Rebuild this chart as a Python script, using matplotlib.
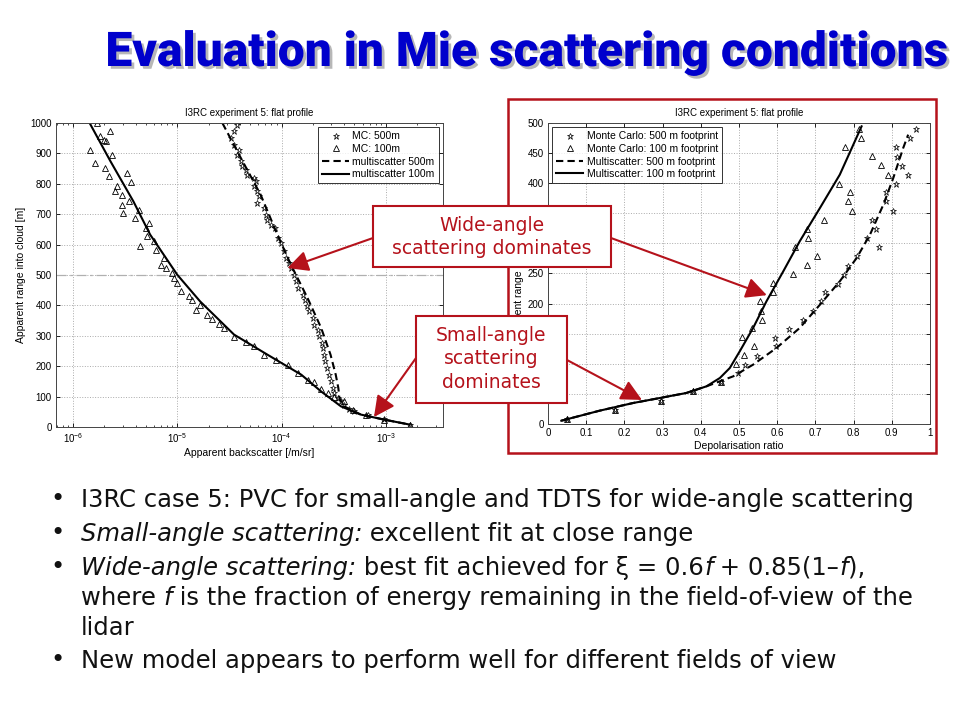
import matplotlib
matplotlib.use("Agg")
import matplotlib.pyplot as plt
import matplotlib.patheffects as pe
from matplotlib.patches import Rectangle
import numpy as np

plt.rcParams['font.family'] = ['Liberation Sans', 'DejaVu Sans']

# ---- left panel: apparent backscatter (log10) vs range ----
ms100_logb = [-5.84, -5.64, -5.42, -5.26, -5.00, -4.78, -4.455, -4.135, -3.81, -3.62, -3.43, -3.24, -3.01, -2.77]
ms100_rng = [1000, 874, 742, 633, 501, 413, 304, 238, 172, 117, 68, 41, 24, 8]

ms500_logb = [-4.567, -4.39, -4.20, -4.04, -3.91, -3.75, -3.62, -3.53, -3.48, -3.455, -3.445, -3.40, -3.24, -3.01, -2.77]
ms500_rng = [1000, 885, 764, 633, 534, 424, 326, 238, 172, 128, 95, 68, 41, 24, 8]

mc500_logb = [-4.429, -4.455, -4.487, -4.455, -4.407, -4.423, -4.391, -4.375, -4.343, -4.327,
              -4.263, -4.247, -4.263, -4.237, -4.215, -4.231, -4.167, -4.151, -4.135, -4.103,
              -4.064, -4.038, -4.006, -3.981, -3.958, -3.926, -3.910, -3.885, -3.862, -3.840,
              -3.798, -3.776, -3.756, -3.734, -3.702, -3.686, -3.654, -3.638, -3.615, -3.606,
              -3.596, -3.583, -3.564, -3.542, -3.526, -3.510, -3.494, -3.462, -3.429, -3.397,
              -3.349, -3.301, -3.173, -3.013, -2.772]
mc500_rng = [995, 973, 951, 929, 912, 896, 874, 858, 847, 830,
             819, 808, 792, 775, 759, 737, 720, 699, 682, 666,
             655, 622, 605, 578, 556, 540, 523, 501, 479, 457,
             435, 419, 397, 381, 359, 337, 320, 298, 276, 260,
             238, 216, 194, 172, 150, 128, 112, 95, 84, 74,
             60, 54, 41, 27, 8]

mc100_logb = [-5.769, -5.641, -5.737, -5.705, -5.679, -5.833, -5.625, -5.785, -5.689, -5.657,
              -5.481, -5.439, -5.577, -5.593, -5.529, -5.465, -5.529, -5.519, -5.369, -5.401,
              -5.272, -5.304, -5.353, -5.288, -5.224, -5.208, -5.160, -5.128, -5.112, -5.048,
              -5.032, -5.000, -4.968, -4.888, -4.856, -4.824, -4.782, -4.712, -4.663, -4.599,
              -4.551, -4.455, -4.343, -4.263, -4.167, -4.054, -3.942, -3.846, -3.750, -3.686,
              -3.622, -3.558, -3.494, -3.397, -3.317, -3.189, -3.013, -2.772]
mc100_rng = [1000, 973, 956, 945, 940, 912, 896, 868, 852, 825,
             836, 806, 792, 775, 764, 745, 731, 704, 715, 688,
             671, 655, 594, 627, 611, 581, 534, 556, 523, 507,
             490, 474, 446, 430, 419, 386, 400, 370, 356, 339,
             326, 295, 280, 265, 238, 219, 205, 178, 156, 148,
             126, 112, 98, 84, 57, 38, 24, 8]

# ---- right panel: depolarisation ratio vs range ----
rs_x = [0.035, 0.135, 0.223, 0.293, 0.362, 0.415, 0.450, 0.476, 0.502, 0.537, 0.572, 0.616, 0.659, 0.712, 0.764, 0.821]
rs_y = [5.5, 22.1, 34.9, 43.2, 51.5, 62.6, 76.4, 93.0, 120.7, 159.5, 203.8, 253.6, 303.4, 358.8, 414.2, 494.4]

rd_x = [0.035, 0.135, 0.223, 0.293, 0.362, 0.415, 0.450, 0.485, 0.537, 0.598, 0.659, 0.712, 0.764, 0.808, 0.843, 0.878, 0.904, 0.930, 0.943]
rd_y = [5.5, 22.1, 34.9, 43.2, 51.5, 62.6, 70.9, 79.2, 98.6, 126.2, 159.5, 198.2, 237.0, 275.7, 314.5, 364.3, 408.6, 458.5, 480.6]

rt_x = [0.051, 0.175, 0.295, 0.380, 0.452, 0.493, 0.514, 0.539, 0.508, 0.561, 0.535, 0.558, 0.555, 0.590, 0.590, 0.642,
        0.677, 0.703, 0.646, 0.681, 0.677, 0.723, 0.797, 0.786, 0.792, 0.761, 0.891, 0.873, 0.847, 0.777, 0.819, 0.813]
rt_y = [8.9, 23.8, 38.8, 54.3, 69.8, 99.7, 114.1, 129.0, 144.0, 173.3, 159.5, 188.3, 203.8, 219.3, 234.2, 249.2,
        264.7, 279.6, 294.0, 309.0, 323.9, 339.4, 354.4, 369.9, 384.8, 399.2, 414.2, 429.7, 444.6, 460.1, 475.1, 490.0]

rp_x = [0.051, 0.175, 0.295, 0.380, 0.452, 0.498, 0.515, 0.546, 0.598, 0.594, 0.631, 0.668, 0.693, 0.716, 0.725, 0.760,
        0.776, 0.786, 0.810, 0.866, 0.834, 0.860, 0.847, 0.904, 0.886, 0.884, 0.911, 0.943, 0.926, 0.913, 0.911, 0.948, 0.963]
rp_y = [8.9, 23.8, 38.8, 54.3, 69.8, 84.7, 98.6, 112.4, 129.0, 142.9, 157.8, 173.3, 187.2, 203.8, 218.7, 233.1,
        248.1, 263.0, 278.5, 293.5, 309.0, 323.9, 339.4, 354.4, 369.9, 384.8, 398.7, 414.2, 429.1, 444.1, 459.6, 475.1, 490.0]

# right-panel y tick labels that sit behind the callout boxes on the slide
r_yticks = [0, 50, 100, 150, 200, 250, 300, 350, 400, 450, 500]
r_yticklabels = ['0', '', '', '', '200', '250', '', '', '400', '450', '500']

panel_title = 'I3RC experiment 5: flat profile'
red = '#B5121B'

fig = plt.figure(figsize=(9.6, 7.2), dpi=100)
fig.patch.set_facecolor('white')

def style_axes(ax):
    ax.tick_params(direction='in', top=True, right=True, labelsize=7, length=3, width=0.6, pad=3)
    ax.tick_params(which='minor', direction='in', top=True, right=True, length=1.5, width=0.5)
    for s in ax.spines.values():
        s.set_linewidth(0.7)
        s.set_color('#444444')
    ax.grid(True, which='major', linestyle=':', color='#aaaaaa', linewidth=0.7)
    ax.set_axisbelow(True)

# left axes
ax1 = fig.add_axes([0.0583, 0.4069, 0.4031, 0.4222])
ax1.set_xscale('log')
ax1.axhline(500, color='#b0b0b0', linestyle=(0, (8, 3, 2, 3)), linewidth=0.9)
ax1.plot(10 ** np.array(mc500_logb), mc500_rng, linestyle='none', marker='*', markersize=5,
         markerfacecolor='none', markeredgecolor='k', markeredgewidth=0.5, label='MC: 500m')
ax1.plot(10 ** np.array(mc100_logb), mc100_rng, linestyle='none', marker='^', markersize=5,
         markerfacecolor='none', markeredgecolor='k', markeredgewidth=0.6, label='MC: 100m')
ax1.plot(10 ** np.array(ms500_logb), ms500_rng, 'k--', linewidth=1.5, dashes=(3.5, 2), label='multiscatter 500m')
ax1.plot(10 ** np.array(ms100_logb), ms100_rng, 'k-', linewidth=1.5, label='multiscatter 100m')
ax1.set_xlim(10 ** -6.163, 10 ** -2.452)
ax1.set_ylim(0, 1000)
ax1.set_yticks(np.arange(0, 1001, 100))
ax1.set_xticks([1e-6, 1e-5, 1e-4, 1e-3])
style_axes(ax1)
ax1.set_title(panel_title, fontsize=7, pad=5)
ax1.set_xlabel('Apparent backscatter [/m/sr]', fontsize=7.5, labelpad=2)
ax1.set_ylabel('Apparent range into cloud [m]', fontsize=7.5, labelpad=3)
leg1 = ax1.legend(loc='upper right', fontsize=7.5, frameon=True, fancybox=False, edgecolor='k',
                  handlelength=2.6, borderaxespad=0.4, labelspacing=0.25, handletextpad=0.3)
leg1.get_frame().set_linewidth(0.7)

# right axes
ax2 = fig.add_axes([0.5708, 0.4111, 0.3979, 0.4181])
ax2.plot(rp_x, rp_y, linestyle='none', marker='*', markersize=5,
         markerfacecolor='none', markeredgecolor='k', markeredgewidth=0.5, label='Monte Carlo: 500 m footprint')
ax2.plot(rt_x, rt_y, linestyle='none', marker='^', markersize=5,
         markerfacecolor='none', markeredgecolor='k', markeredgewidth=0.6, label='Monte Carlo: 100 m footprint')
ax2.plot(rd_x, rd_y, 'k--', linewidth=1.5, dashes=(3.5, 2), label='Multiscatter: 500 m footprint')
ax2.plot(rs_x, rs_y, 'k-', linewidth=1.5, label='Multiscatter: 100 m footprint')
ax2.set_xlim(0, 1)
ax2.set_ylim(0, 500)
ax2.set_xticks(np.arange(0, 1.01, 0.1))
ax2.set_xticklabels(['0', '0.1', '0.2', '0.3', '0.4', '0.5', '0.6', '0.7', '0.8', '0.9', '1'])
ax2.set_yticks(r_yticks)
ax2.set_yticklabels(r_yticklabels)
style_axes(ax2)
ax2.set_title(panel_title, fontsize=7, pad=5)
ax2.set_xlabel('Depolarisation ratio', fontsize=7.5, labelpad=2)
ax2.set_ylabel('Apparent range into cloud [m]', fontsize=7.5, labelpad=3)
leg2 = ax2.legend(loc='upper left', fontsize=7.5, frameon=True, fancybox=False, edgecolor='k',
                  handlelength=2.6, borderaxespad=0.4, labelspacing=0.25, handletextpad=0.3)
leg2.get_frame().set_linewidth(0.7)

# overlay in pixel coordinates for slide elements
ov = fig.add_axes([0, 0, 1, 1], zorder=10)
ov.set_xlim(0, 960)
ov.set_ylim(720, 0)
ov.axis('off')

ov.text(526, 53, 'Evaluation in Mie scattering conditions', ha='center', va='center',
        fontsize=34.5, weight='black', color='#0000CC',
        family=['Roboto', 'DejaVu Sans'],
        path_effects=[pe.withSimplePatchShadow(offset=(2, -2), shadow_rgbFace='#888888', alpha=0.6)])

# red frame round the right chart
ov.add_patch(Rectangle((508, 99), 428, 354, fill=False, edgecolor=red, linewidth=1.8))

# callout boxes
ov.add_patch(Rectangle((373, 206), 238, 61, facecolor='white', edgecolor=red, linewidth=1.5))
ov.text(492, 237, 'Wide-angle\nscattering dominates', ha='center', va='center', color=red,
        fontsize=13.5, linespacing=1.3, family='DejaVu Sans')
ov.add_patch(Rectangle((416, 316), 151, 87, facecolor='white', edgecolor=red, linewidth=1.5))
ov.text(491, 359, 'Small-angle\nscattering\ndominates', ha='center', va='center', color=red,
        fontsize=13.5, linespacing=1.3, family='DejaVu Sans')

arrow = dict(arrowstyle='-|>,head_length=0.9,head_width=0.45', color=red, lw=1.5,
             mutation_scale=14, shrinkA=0, shrinkB=0)
ov.annotate('', xy=(1.14e-4, 523), xycoords=ax1.transData, xytext=(373, 238), textcoords='data', arrowprops=arrow)
ov.annotate('', xy=(0.573, 214), xycoords=ax2.transData, xytext=(611, 238), textcoords='data', arrowprops=arrow)
ov.annotate('', xy=(7.7e-4, 33), xycoords=ax1.transData, xytext=(416, 358), textcoords='data', arrowprops=arrow)
ov.annotate('', xy=(0.246, 40), xycoords=ax2.transData, xytext=(567, 360), textcoords='data', arrowprops=arrow)

# bullet list
bullet_kw = dict(fontsize=17.5, color='#111111', family='DejaVu Sans')

def bullet_line(y, parts, bullet=True):
    if bullet:
        ov.text(50, y, '\u2022', ha='left', va='center', **bullet_kw)
    prev = ov.text(81, y + 13, parts[0][0], style=parts[0][1], ha='left', va='bottom', **bullet_kw)
    for txt, st in parts[1:]:
        prev = ov.annotate(txt, xy=(1, 0), xycoords=prev, style=st, ha='left', va='bottom', **bullet_kw)

bullet_line(499, [('I3RC case 5: PVC for small-angle and TDTS for wide-angle scattering', 'normal')])
bullet_line(533, [('Small-angle scattering:', 'italic'), (' excellent fit at close range', 'normal')])
bullet_line(567, [('Wide-angle scattering:', 'italic'), (' best fit achieved for \u03be = 0.6', 'normal'),
                  ('f', 'italic'), (' + 0.85(1\u2013', 'normal'), ('f', 'italic'), ('),', 'normal')])
bullet_line(597, [('where ', 'normal'), ('f', 'italic'),
                  (' is the fraction of energy remaining in the field-of-view of the', 'normal')], bullet=False)
bullet_line(627, [('lidar', 'normal')], bullet=False)
bullet_line(660, [('New model appears to perform well for different fields of view', 'normal')])

fig.savefig('out.png', dpi=100, facecolor='white')
